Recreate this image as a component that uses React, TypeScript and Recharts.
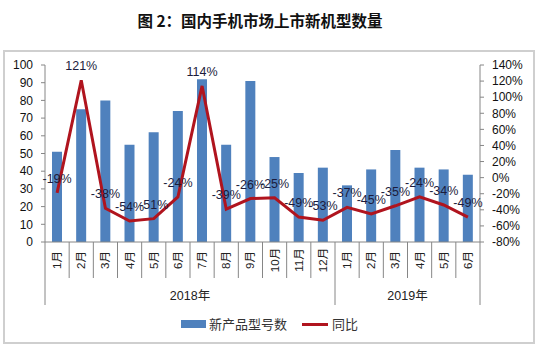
import { ComposedChart, Bar, Line, XAxis, YAxis, LabelList } from "recharts";

const months = [
  "1月", "2月", "3月", "4月", "5月", "6月", "7月", "8月", "9月", "10月", "11月", "12月",
  "1月", "2月", "3月", "4月", "5月", "6月",
];
const newModels = [51, 75, 80, 55, 62, 74, 92, 55, 91, 48, 39, 42, 32, 41, 52, 42, 41, 38];
const yoy = [-19, 121, -38, -54, -51, -24, 114, -39, -26, -25, -49, -53, -37, -45, -35, -24, -34, -49];
const years = ["2018年", "2019年"];
const yearSizes = [12, 6];
const leftTicks = [0, 10, 20, 30, 40, 50, 60, 70, 80, 90, 100];
const rightTicks = [-80, -60, -40, -20, 0, 20, 40, 60, 80, 100, 120, 140];

const data = months.map((m, i) => ({ month: m, count: newModels[i], yoy: yoy[i] }));

// plot box
const W = 540;
const H = 351;
const LEFT_W = 45;
const RIGHT_W = 60;
const TOP = 65;
const X_H = 109;
const STEP = (W - LEFT_W - RIGHT_W) / months.length;

const FONT = '"Liberation Sans", "Noto Sans CJK SC", sans-serif';
const AXIS = "#868686";

// group starts: 0, 12
const groupStarts = yearSizes.map((_, g) => yearSizes.slice(0, g).reduce((a, b) => a + b, 0));

function MonthTick(props: any) {
  const { x, y, payload } = props;
  const i = payload?.index ?? props.index;
  const left = x - STEP / 2;
  const g = groupStarts.indexOf(i);
  const isLast = i === months.length - 1;
  return (
    <g>
      <line x1={left} y1={y} x2={left} y2={y + (g >= 0 ? 63 : 36)} stroke={AXIS} />
      {isLast && <line x1={x + STEP / 2} y1={y} x2={x + STEP / 2} y2={y + 63} stroke={AXIS} />}
      <text
        x={x}
        y={y + 18}
        transform={`rotate(-90 ${x} ${y + 18})`}
        textAnchor="middle"
        dominantBaseline="central"
        fontSize={11.5}
        fontFamily={FONT}
        fill="#222"
      >
        {payload.value}
      </text>
      {g >= 0 && (
        <text
          x={left + (yearSizes[g] * STEP) / 2}
          y={y + 54}
          textAnchor="middle"
          dominantBaseline="central"
          fontSize={12.5}
          fontFamily={FONT}
          fill="#222"
        >
          {years[g]}
        </text>
      )}
    </g>
  );
}

export default function App() {
  return (
    <div style={{ position: "absolute", left: 0, top: 0, width: W, height: H, background: "#fff" }}>
      <div
        style={{
          position: "absolute",
          top: 9,
          left: 0,
          width: W - 20,
          textAlign: "center",
          fontFamily: '"Noto Sans CJK SC", sans-serif',
          fontWeight: 700,
          fontSize: 15.5,
          lineHeight: "22px",
          color: "#111",
        }}
      >
        图 2：国内手机市场上市新机型数量
      </div>
      <div
        style={{
          position: "absolute",
          left: 3,
          top: 50,
          width: 528,
          height: 290,
          border: "2px solid #cfcfcf",
        }}
      />
      <div style={{ position: "absolute", left: 0, top: 0 }}>
        <ComposedChart
          width={W}
          height={H}
          data={data}
          margin={{ top: TOP, right: 0, bottom: 0, left: 0 }}
          barCategoryGap={0}
        >
          <XAxis
            dataKey="month"
            height={X_H}
            interval={0}
            stroke={AXIS}
            tickLine={false}
            tickSize={0}
            tickMargin={0}
            tick={<MonthTick />}
          />
          <YAxis
            yAxisId="left"
            domain={[0, 100]}
            ticks={leftTicks}
            width={LEFT_W}
            stroke={AXIS}
            tickSize={4}
            tickMargin={8}
            tick={{ fill: "#111", fontSize: 12, fontFamily: FONT }}
            interval={0}
          />
          <YAxis
            yAxisId="right"
            orientation="right"
            domain={[-80, 140]}
            ticks={rightTicks}
            width={RIGHT_W}
            stroke={AXIS}
            tickSize={4}
            tickMargin={8}
            tickFormatter={(v: number) => `${v}%`}
            tick={{ fill: "#111", fontSize: 12, fontFamily: FONT }}
            interval={0}
          />
          <Bar yAxisId="left" dataKey="count" fill="#4F81BD" barSize={10} isAnimationActive={false} />
          <Line
            yAxisId="right"
            dataKey="yoy"
            type="linear"
            stroke="#B0141E"
            strokeWidth={3}
            dot={false}
            activeDot={false}
            isAnimationActive={false}
          >
            <LabelList
              dataKey="yoy"
              position="top"
              offset={10}
              formatter={(v: number) => `${v}%`}
              style={{ fill: "#1c1c3c", fontSize: 12.5, fontFamily: FONT }}
            />
          </Line>
        </ComposedChart>
      </div>
      <div
        style={{
          position: "absolute",
          left: 181,
          top: 315,
          display: "flex",
          alignItems: "center",
          fontFamily: '"Noto Sans CJK SC", sans-serif',
          fontSize: 13,
          color: "#333",
          lineHeight: "18px",
        }}
      >
        <span style={{ display: "inline-block", width: 25, height: 8, background: "#4F81BD", marginRight: 3 }} />
        <span>新产品型号数</span>
        <span style={{ display: "inline-block", width: 26, height: 3, background: "#B0141E", marginLeft: 15, marginRight: 4 }} />
        <span>同比</span>
      </div>
    </div>
  );
}
